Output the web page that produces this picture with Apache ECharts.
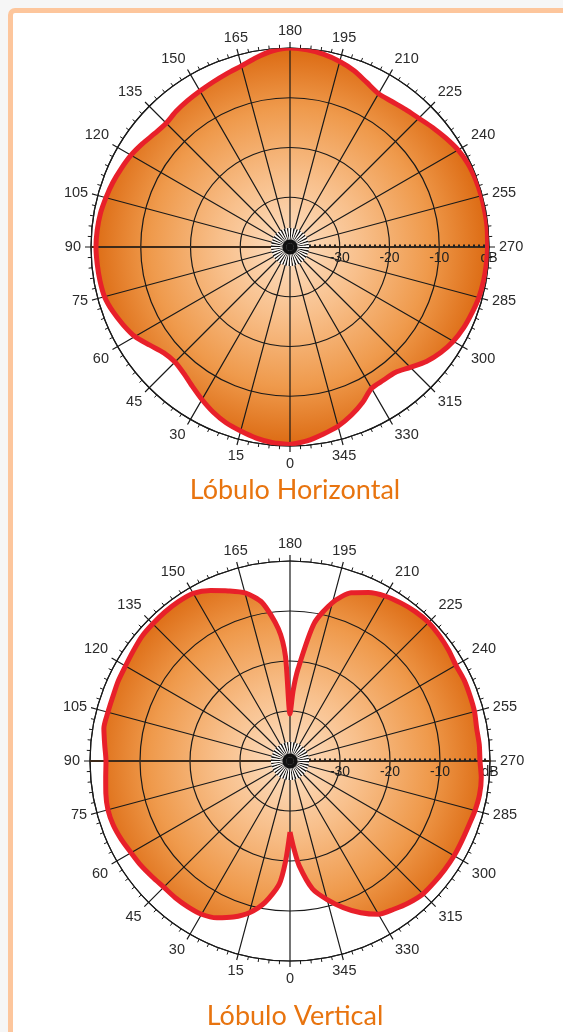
<!DOCTYPE html>
<html>
<head>
<meta charset="utf-8">
<script src="https://cdn.jsdelivr.net/npm/echarts@6/dist/echarts.min.js"></script>
<style>
html,body{margin:0;padding:0;background:#f6f6f6;width:563px;height:1032px;overflow:hidden;}
#frame{position:absolute;left:8px;top:8px;width:600px;height:1100px;border:5px solid #fdc69c;border-radius:7px;background:#ffffff;}
#chart{position:absolute;left:0;top:0;width:563px;height:1032px;}
</style>
</head>
<body>
<div id="frame"></div>
<div id="chart"></div>
<script>
// ---- data (dB vs angle in degrees) ----
const angleTicks = ['0','15','30','45','60','75','90','105','120','135','150','165','180','195','210','225','240','255','270','285','300','315','330','345'];
const dbTicks = ['-30','-20','-10','dB'];

const hAngles = [0,5,10,15,20,25,30,35,40,45,50,55,60,65,70,75,80,85,90,95,100,105,110,115,120,125,130,135,140,145,150,155,160,165,170,175,180,185,190,195,200,205,210,215,220,225,230,235,240,245,250,255,260,265,270,275,280,285,290,295,300,305,310,315,320,325,330,335,340,345,350,355,360];
const hValues = [-0.3,-0.5,-1.0,-1.7,-2.4,-3.4,-4.6,-5.8,-6.8,-7.3,-6.9,-5.6,-4.0,-3.0,-2.1,-1.4,-1.2,-1.1,-1.0,-1.1,-1.3,-1.7,-2.1,-2.6,-3.1,-3.8,-4.5,-4.8,-4.4,-4.1,-3.8,-3.4,-2.9,-2.3,-1.3,-0.4,0.0,-0.2,-0.7,-1.4,-2.3,-3.5,-4.4,-4.3,-3.9,-3.4,-2.6,-1.8,-1.0,-0.5,-0.3,-0.2,-0.2,-0.2,-0.3,-0.4,-0.5,-0.7,-1.1,-1.5,-2.1,-3.0,-4.2,-5.8,-7.1,-7.3,-7.2,-5.5,-4.0,-2.7,-1.8,-0.9,-0.3];

const vAngles = [0,2.5,5,10,15,20,25,30,35,40,45,50,55,60,65,70,75,80,85,90,95,100,105,110,115,120,125,130,135,140,145,150,155,160,165,170,175,177.5,180,182.5,185,190,195,200,205,210,215,220,225,230,235,240,245,250,255,260,265,270,275,280,285,290,295,300,305,310,315,320,325,330,335,340,345,350,355,357.5,360];
const vValues = [-25.8,-20.0,-15.3,-11.3,-8.6,-6.8,-5.4,-4.6,-4.4,-4.3,-4.3,-4.0,-3.6,-3.3,-2.8,-2.4,-2.3,-2.6,-3.0,-3.2,-2.8,-2.2,-2.3,-2.3,-2.1,-2.0,-1.7,-1.3,-1.2,-1.1,-1.1,-1.3,-2.4,-3.8,-5.2,-7.8,-13.5,-19.0,-30.6,-26.0,-21.5,-12.0,-7.2,-4.2,-2.8,-1.9,-1.4,-1.0,-0.8,-1.0,-1.3,-1.7,-1.6,-1.7,-1.8,-2.1,-2.0,-2.0,-1.6,-1.5,-1.7,-2.0,-2.1,-2.1,-2.2,-2.3,-2.4,-3.0,-3.8,-4.6,-6.5,-8.8,-11.3,-14.0,-19.0,-22.5,-25.8];

// ---- layout ----
const charts = [
  {center:[290,247], radius:199, angles:hAngles, values:hValues, title:'Lóbulo Horizontal', titleTop:472},
  {center:[290,761], radius:200, angles:vAngles, values:vValues, title:'Lóbulo Vertical', titleTop:998}
];

const polar = [], angleAxis = [], radiusAxis = [], series = [], title = [];
const labelFont = {color:'#2b2b2b', fontSize:14.5, fontFamily:'Liberation Sans, Arial, sans-serif'};

charts.forEach((c, k) => {
  const base = polar.length;
  // A: main grid
  polar.push({center:c.center, radius:c.radius});
  angleAxis.push({
    polarIndex: base, type:'value', min:0, max:360, interval:15, startAngle:270, clockwise:true, z:3,
    axisLine:{show:true, lineStyle:{color:'#1a1a1a', width:1.2}},
    axisTick:{show:true, inside:false, length:6, lineStyle:{color:'#1a1a1a', width:1.2}},
    minorTick:{show:true, splitNumber:5, length:3.5, lineStyle:{color:'#1a1a1a', width:1}},
    splitLine:{show:true, lineStyle:{color:'#1a1a1a', width:1.2}},
    axisLabel:Object.assign({show:true, margin:10, formatter:(v)=>angleTicks[Math.round(v/15)%24]}, labelFont)
  });
  radiusAxis.push({
    polarIndex: base, type:'value', min:-40, max:0, interval:10, z:3,
    axisLine:{show:false}, axisTick:{show:false}, axisLabel:{show:false},
    splitLine:{show:true, lineStyle:{color:'#1a1a1a', width:1.2}}
  });
  // B: horizontal axis line with dB ruler, labels on the right
  polar.push({center:c.center, radius:c.radius});
  angleAxis.push({
    polarIndex: base+1, type:'value', min:0, max:360, interval:180, startAngle:0, clockwise:true, z:4,
    axisLine:{show:false}, axisTick:{show:false}, axisLabel:{show:false},
    splitLine:{show:true, lineStyle:{color:'#3d2a1a', width:2}}
  });
  radiusAxis.push({
    polarIndex: base+1, type:'value', min:-40, max:0, interval:10, z:4,
    axisLine:{show:true, lineStyle:{color:'#3d2a1a', width:2}},
    axisTick:{show:false},
    minorTick:{show:true, splitNumber:10, length:2.5, lineStyle:{color:'#222', width:2}},
    splitLine:{show:false},
    axisLabel:Object.assign({show:true, margin:-18, fontSize:14,
      formatter:(v)=>{const i=Math.round((v+30)/10); return (i>=0 && i<dbTicks.length)? dbTicks[i] : '';}},
      {color:'#222', fontFamily:'Liberation Sans, Arial, sans-serif'})
  });
  // C: starburst in the centre
  polar.push({center:c.center, radius:19});
  angleAxis.push({
    polarIndex: base+2, type:'value', min:0, max:360, interval:5, startAngle:0, z:5,
    axisLine:{show:false}, axisTick:{show:false}, axisLabel:{show:false}, splitLine:{show:false},
    splitArea:{show:true, areaStyle:{color:['#151515','#ffffff']}}
  });
  radiusAxis.push({
    polarIndex: base+2, type:'value', min:0, max:5, interval:1, z:6,
    axisLine:{show:false}, axisTick:{show:false}, axisLabel:{show:false}, splitLine:{show:false},
    splitArea:{show:true, areaStyle:{color:['#111111','#111111','rgba(0,0,0,0)','rgba(0,0,0,0)','rgba(0,0,0,0)']}}
  });

  const data = c.angles.map((a,i)=>[c.values[i], a]);
  const grad = new echarts.graphic.RadialGradient(c.center[0], c.center[1], c.radius, [
    {offset:0, color:'#fde0c4'},
    {offset:0.35, color:'#f8c08c'},
    {offset:0.7, color:'#ef9a4c'},
    {offset:1, color:'#dc6a12'}
  ], true);
  series.push({
    type:'line', coordinateSystem:'polar', polarIndex:base, data:data, symbol:'none',
    smooth:0.25, clip:false, z:1, silent:true, animation:false,
    lineStyle:{width:0, opacity:0},
    areaStyle:{origin:'start', color:grad, opacity:1}
  });
  series.push({
    type:'line', coordinateSystem:'polar', polarIndex:base, data:data, symbol:'none',
    smooth:0.25, clip:false, z:8, silent:true, animation:false,
    lineStyle:{width:5, color:'#e8202a'}
  });
  title.push({
    text:c.title, left:290, top:c.titleTop, textAlign:'center',
    textStyle:{color:'#e8740f', fontSize:27, fontWeight:'normal', fontFamily:'Lato, "Open Sans", sans-serif'}
  });
});

const chart = echarts.init(document.getElementById('chart'), null, {renderer:'canvas'});
chart.setOption({
  backgroundColor:'transparent',
  animation:false,
  title: title,
  polar: polar,
  angleAxis: angleAxis,
  radiusAxis: radiusAxis,
  series: series
});
</script>
</body>
</html>
